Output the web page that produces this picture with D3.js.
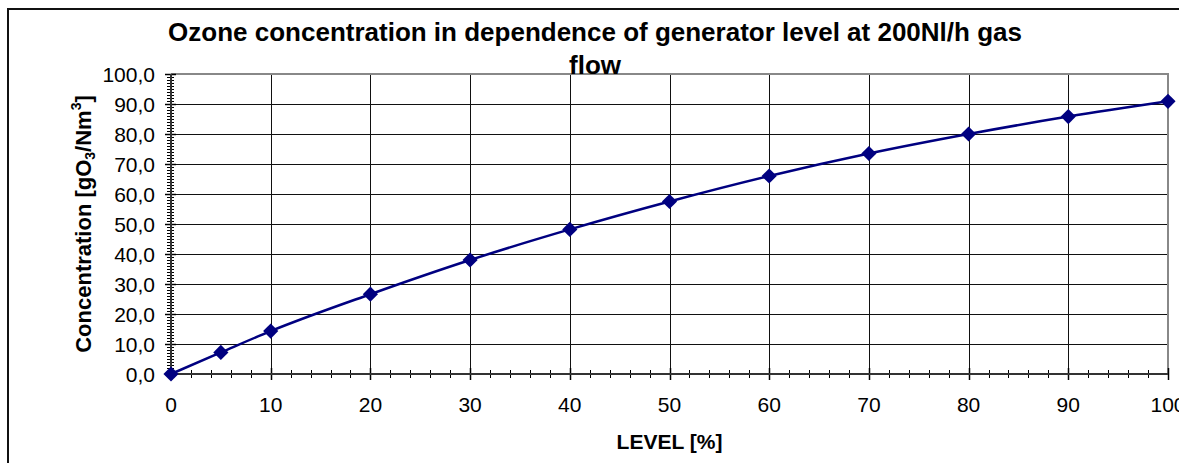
<!DOCTYPE html>
<html>
<head>
<meta charset="utf-8">
<script src="https://cdn.jsdelivr.net/npm/d3@7"></script>
<style>
  html, body { margin: 0; padding: 0; background: #fff; }
  svg { display: block; }
  text { font-family: "Liberation Sans", Arial, sans-serif; }
</style>
</head>
<body>
<svg id="chart" width="1179" height="463"></svg>
<script>
// ---- data ----
const levels = [0, 5, 10, 20, 30, 40, 50, 60, 70, 80, 90, 100];
const concentration = [0.0, 7.2, 14.3, 26.6, 38.0, 48.2, 57.5, 66.0, 73.5, 80.0, 85.8, 90.9];
const xTicks = [0, 10, 20, 30, 40, 50, 60, 70, 80, 90, 100];
const yTicks = [0, 10, 20, 30, 40, 50, 60, 70, 80, 90, 100];
const titleLines = ["Ozone concentration in dependence of generator level at 200Nl/h gas", "flow"];
const xTitle = "LEVEL [%]";

const svg = d3.select("#chart");
const W = 1179, H = 463;
const plot = { left: 171, right: 1168, top: 74, bottom: 374 };

const x = d3.scaleLinear().domain([0, 100]).range([plot.left, plot.right]);
const y = d3.scaleLinear().domain([0, 100]).range([plot.bottom, plot.top]);

// outer chart frame
svg.append("rect")
  .attr("x", 8).attr("y", 9)
  .attr("width", W + 20).attr("height", H + 20)
  .attr("fill", "#fff").attr("stroke", "#111").attr("stroke-width", 2);

// gridlines
const grid = svg.append("g");
grid.selectAll("line.v").data(xTicks.filter(d => d > 0 && d < 100)).join("line")
  .attr("x1", d => Math.round(x(d)) + 0.5).attr("x2", d => Math.round(x(d)) + 0.5)
  .attr("y1", plot.top).attr("y2", plot.bottom)
  .attr("stroke", "#111").attr("stroke-width", 1);
grid.selectAll("line.h").data(yTicks.filter(d => d > 0 && d < 100)).join("line")
  .attr("y1", d => Math.round(y(d)) + 0.5).attr("y2", d => Math.round(y(d)) + 0.5)
  .attr("x1", plot.left).attr("x2", plot.right)
  .attr("stroke", "#111").attr("stroke-width", 1);

// plot area top/right border (gray)
svg.append("path")
  .attr("d", `M${plot.left},${plot.top} H${plot.right} V${plot.bottom}`)
  .attr("fill", "none").attr("stroke", "#888").attr("stroke-width", 2);

// minor ticks
const xMinor = d3.range(0, 101, 2).filter(d => d % 10 !== 0);
const yMinor = d3.range(0, 101, 1).filter(d => d % 10 !== 0);

const xAxisG = svg.append("g").attr("transform", `translate(0,${plot.bottom})`);
xAxisG.selectAll("line.minor").data(xMinor).join("line")
  .attr("x1", d => Math.round(x(d)) + 0.5).attr("x2", d => Math.round(x(d)) + 0.5)
  .attr("y1", -4).attr("y2", 4).attr("stroke", "#000");
xAxisG.selectAll("line.major").data(xTicks).join("line")
  .attr("x1", d => Math.round(x(d)) + 0.5).attr("x2", d => Math.round(x(d)) + 0.5)
  .attr("y1", -6).attr("y2", 6).attr("stroke", "#000").attr("stroke-width", 1.5);
xAxisG.append("line").attr("x1", plot.left).attr("x2", plot.right)
  .attr("y1", 0).attr("y2", 0).attr("stroke", "#333").attr("stroke-width", 2);
xAxisG.selectAll("text").data(xTicks).join("text")
  .attr("x", d => x(d)).attr("y", 38)
  .attr("text-anchor", "middle").attr("font-size", 21).attr("fill", "#000")
  .text(d => d);

const yAxisG = svg.append("g").attr("transform", `translate(${plot.left},0)`);
yAxisG.selectAll("line.minor").data(yMinor).join("line")
  .attr("y1", d => Math.round(y(d)) + 0.5).attr("y2", d => Math.round(y(d)) + 0.5)
  .attr("x1", -4).attr("x2", 3).attr("stroke", "#000");
yAxisG.selectAll("line.major").data(yTicks).join("line")
  .attr("y1", d => Math.round(y(d)) + 0.5).attr("y2", d => Math.round(y(d)) + 0.5)
  .attr("x1", -6).attr("x2", 5).attr("stroke", "#000").attr("stroke-width", 1.5);
yAxisG.append("line").attr("y1", plot.top).attr("y2", plot.bottom)
  .attr("x1", 0).attr("x2", 0).attr("stroke", "#333").attr("stroke-width", 2);
yAxisG.selectAll("text").data(yTicks).join("text")
  .attr("x", -16).attr("y", d => y(d)).attr("dy", "0.36em")
  .attr("text-anchor", "end").attr("font-size", 21).attr("fill", "#000")
  .text(d => d3.format(".1f")(d).replace(".", ","));

// series line
const line = d3.line()
  .x((d, i) => x(levels[i]))
  .y(d => y(d))
  .curve(d3.curveMonotoneX);
svg.append("path").datum(concentration)
  .attr("d", line)
  .attr("fill", "none").attr("stroke", "#000080").attr("stroke-width", 2.5);

// markers (diamonds)
const diamond = d3.symbol().type(d3.symbolSquare).size(115);
svg.selectAll("path.marker").data(concentration).join("path")
  .attr("class", "marker")
  .attr("d", diamond)
  .attr("transform", (d, i) => `translate(${x(levels[i])},${y(d)}) rotate(45)`)
  .attr("fill", "#000080");

// title
svg.append("text")
  .attr("text-anchor", "middle").attr("font-weight", "bold").attr("font-size", 26)
  .attr("fill", "#000")
  .selectAll("tspan").data(titleLines).join("tspan")
  .attr("x", 595).attr("y", (d, i) => 41 + i * 33)
  .text(d => d);

// x-axis title
svg.append("text")
  .attr("x", (plot.left + plot.right) / 2).attr("y", 449)
  .attr("text-anchor", "middle").attr("font-weight", "bold").attr("font-size", 21)
  .attr("fill", "#000").text(xTitle);

// y-axis title
const yt = svg.append("text")
  .attr("transform", `translate(91,${(plot.top + plot.bottom) / 2}) rotate(-90)`)
  .attr("text-anchor", "middle").attr("font-weight", "bold").attr("font-size", 22)
  .attr("fill", "#000");
yt.append("tspan").text("Concentration [gO");
yt.append("tspan").attr("font-size", 14).attr("dy", 4).text("3");
yt.append("tspan").attr("dy", -4).text("/Nm");
yt.append("tspan").attr("font-size", 14).attr("dy", -10).text("3");
yt.append("tspan").attr("dy", 10).text("]");
</script>
</body>
</html>
